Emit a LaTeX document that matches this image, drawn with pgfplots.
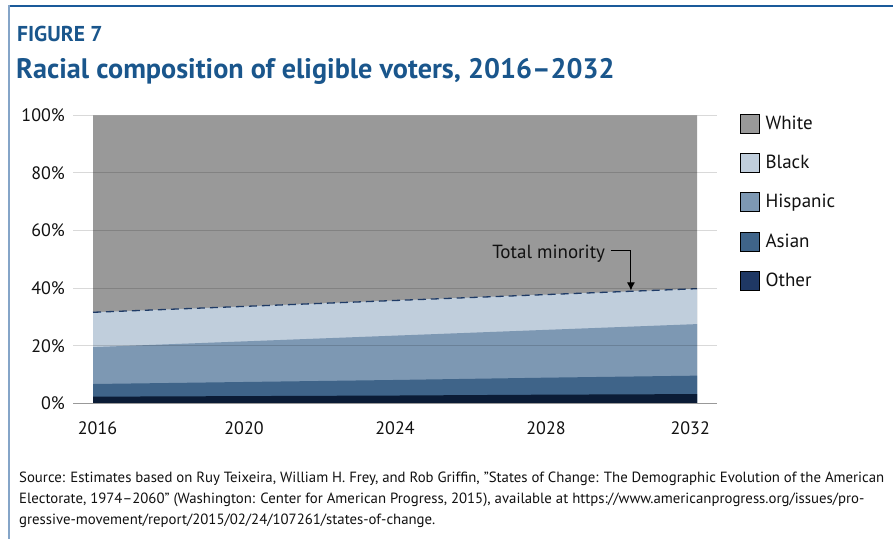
\documentclass[border=0pt]{standalone}
\usepackage{fontspec}
\setmainfont{PT Sans}
\usepackage{pgfplots}
\pgfplotsset{compat=1.18}
\usetikzlibrary{arrows.meta}
\definecolor{cWhite}{HTML}{999999}
\definecolor{cBlack}{HTML}{C0CEDC}
\definecolor{cHisp}{HTML}{7D98B3}
\definecolor{cAsian}{HTML}{3F6489}
\definecolor{cOther}{HTML}{0B1C36}
\definecolor{cOtherLeg}{HTML}{1F3864}
\definecolor{cTitle}{HTML}{1A568C}
\definecolor{cTop}{HTML}{1A5A9A}
\definecolor{cLeft}{HTML}{85A5C8}
\definecolor{cDash}{HTML}{1F3B66}
\definecolor{cText}{HTML}{111111}
\begin{document}
\begin{tikzpicture}
\useasboundingbox (0pt,0pt) rectangle (893pt,539pt);
\fill[white] (0pt,0pt) rectangle (893pt,539pt);
\draw[cTop, line width=2pt] (8pt,533pt) -- (893pt,533pt);
\draw[cLeft, line width=2pt] (9pt,534pt) -- (9pt,0pt);
\node[anchor=base west, inner sep=0, text=cTitle, font=\fontsize{21.5}{22}\selectfont\bfseries] at (17pt,497pt) {FIGURE 7};
\node[anchor=base west, inner sep=0, text=cTitle, font=\fontsize{28.2}{30}\selectfont\bfseries] at (16pt,460pt) {Racial composition of eligible voters, 2016–2032};
\node[anchor=base west, inner sep=0, text=cText, font=\fontsize{14.8}{16}\selectfont] at (19pt,57pt) {Source: Estimates based on Ruy Teixeira, William H. Frey, and Rob Griffin, "States of Change: The Demographic Evolution of the American};
\node[anchor=base west, inner sep=0, text=cText, font=\fontsize{14.8}{16}\selectfont] at (19pt,36pt) {Electorate, 1974–2060" (Washington: Center for American Progress, 2015), available at https://www.americanprogress.org/issues/pro-};
\node[anchor=base west, inner sep=0, text=cText, font=\fontsize{14.8}{16}\selectfont] at (19pt,15pt) {gressive-movement/report/2015/02/24/107261/states-of-change.};
\begin{axis}[
  at={(73pt,135.7pt)}, anchor=south west,
  scale only axis, width=644pt, height=288pt,
  xmin=2015.47, xmax=2032.53, ymin=0, ymax=100,
  axis on top,
  axis x line*=bottom, axis y line*=left,
  y axis line style={draw=none},
  x axis line style={draw=gray!80, line width=1pt, -},
  major tick length=0pt,
  ymajorgrids, grid style={black, opacity=0.15, line width=1pt},
  ytick={0,20,40,60,80,100},
  yticklabel={\pgfmathprintnumber{\tick}\%},
  xtick={2016.12,2020,2024,2028,2031.82},
  xticklabels={2016,2020,2024,2028,2032},
  /pgf/number format/assume math mode=true,
  tick label style={font=\fontsize{18}{20}\selectfont, text=cText},
  yticklabel style={anchor=east, inner sep=0pt, xshift=-8pt},
  xticklabel style={anchor=north, inner sep=0pt, yshift=-18pt},
  legend style={at={(rel axis cs:1,1)}, anchor=north west, xshift=23pt, yshift=2pt,
    draw=none, fill=none, inner sep=0pt, font=\fontsize{19}{20}\selectfont, text=cText,
    row sep=20pt, cells={anchor=west},
    /tikz/every odd column/.append style={column sep=4pt}},
  legend image code/.code={\fill[#1] (0pt,-9.5pt) rectangle (19pt,9.5pt);},
]
\addplot[fill=cWhite, draw=none, forget plot] coordinates {(2016,100) (2020,100) (2024,100) (2028,100) (2032,100)} \closedcycle;
\addplot[fill=cBlack, draw=none, forget plot] coordinates {(2016,31.6) (2020,33.65) (2024,35.7) (2028,37.75) (2032,39.8)} \closedcycle;
\addplot[fill=cHisp, draw=none, forget plot] coordinates {(2016,19.5) (2020,21.5) (2024,23.5) (2028,25.5) (2032,27.5)} \closedcycle;
\addplot[fill=cAsian, draw=none, forget plot] coordinates {(2016,6.7) (2020,7.4) (2024,8.1) (2028,8.9) (2032,9.6)} \closedcycle;
\addplot[fill=cOther, draw=none, forget plot] coordinates {(2016,2.3) (2020,2.5) (2024,2.7) (2028,3.0) (2032,3.2)} \closedcycle;
\addplot[cDash, line width=1.3pt, dash pattern=on 8pt off 5pt, forget plot] coordinates {(2016,31.6) (2020,33.65) (2024,35.7) (2028,37.75) (2032,39.8)};
\draw[black, line width=1pt, -{Latex[length=8pt,width=8pt]}] (axis cs:2029.72,53) -- (axis cs:2030.25,53) -- (axis cs:2030.25,39.2);
\node[anchor=east, inner sep=0pt, font=\fontsize{19}{20}\selectfont, text=cText] at (axis cs:2029.57,51.8) {Total minority};
\addlegendimage{fill=cWhite}
\addlegendentry{White}
\addlegendimage{fill=cBlack}
\addlegendentry{Black}
\addlegendimage{fill=cHisp}
\addlegendentry{Hispanic}
\addlegendimage{fill=cAsian}
\addlegendentry{Asian}
\addlegendimage{fill=cOtherLeg}
\addlegendentry{Other}
\end{axis}
\end{tikzpicture}
\end{document}
